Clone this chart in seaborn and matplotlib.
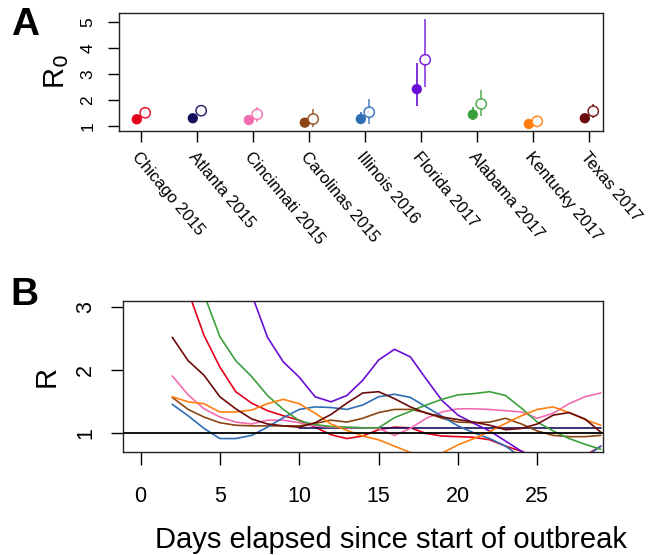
import numpy as np
import pandas as pd
import matplotlib
matplotlib.use("Agg")
import matplotlib.pyplot as plt
import seaborn as sns

# ---------------- data ----------------
regions = ["Chicago 2015", "Atlanta 2015", "Cincinnati 2015", "Carolinas 2015",
           "Illinois 2016", "Florida 2017", "Alabama 2017", "Kentucky 2017", "Texas 2017"]
colors = ["#E3001B", "#15105E", "#F26CB0", "#8B4513", "#2F6DB5",
          "#6A0DD6", "#3BA03B", "#FF7F0E", "#6B0A0A"]

# Panel A: two R0 estimates per outbreak (filled / open) with intervals
r0_filled = [1.26, 1.30, 1.23, 1.13, 1.27, 2.42, 1.44, 1.08, 1.30]
r0_filled_lo = [1.20, 1.25, 1.18, 1.05, 1.08, 1.78, 1.23, 1.02, 1.24]
r0_filled_hi = [1.32, 1.36, 1.29, 1.22, 1.55, 3.41, 1.74, 1.14, 1.36]
r0_open = [1.51, 1.59, 1.45, 1.27, 1.53, 3.55, 1.85, 1.18, 1.57]
r0_open_lo = [1.31, 1.50, 1.17, 0.95, 1.08, 2.49, 1.40, 1.02, 1.30]
r0_open_hi = [1.73, 1.68, 1.73, 1.64, 2.04, 5.12, 2.38, 1.33, 1.86]

# Panel B: R(t) by day
days = list(range(2, 30))
r_chicago = [4.30, 3.25, 2.55, 2.05, 1.66, 1.48, 1.36, 1.28, 1.21, 1.10, 0.98, 0.92, 0.96, 1.06,
             1.10, 1.09, 1.00, 0.96, 0.95, 0.94, 0.90, 0.80, 0.72, 0.60, 0.50, 0.50, 0.65, 0.80]
r_atlanta = [np.nan] * 8 + [1.09] * 20
r_cincinnati = [1.91, 1.61, 1.39, 1.26, 1.18, 1.15, 1.21, 1.21, 1.17, 1.12, 1.10, 1.09, 1.09, 1.08,
                0.97, 1.08, 1.24, 1.34, 1.39, 1.39, 1.38, 1.36, 1.34, 1.24, 1.32, 1.47, 1.58, 1.64]
r_carolinas = [1.57, 1.38, 1.26, 1.17, 1.13, 1.12, 1.12, 1.12, 1.12, 1.16, 1.21, 1.18, 1.24, 1.33,
               1.38, 1.38, 1.33, 1.24, 1.18, 1.17, 1.18, 1.24, 1.15, 1.04, 0.97, 0.95, 0.95, 0.97]
r_illinois = [1.46, 1.28, 1.08, 0.92, 0.92, 0.97, 1.10, 1.25, 1.38, 1.42, 1.41, 1.38, 1.45, 1.58,
              1.62, 1.57, 1.42, 1.27, 1.12, 1.01, 0.92, 0.80, 0.62, 0.50, 0.45, 0.45, 0.62, 0.80]
r_florida = [7.50, 6.50, 5.50, 4.60, 3.90, 3.20, 2.52, 2.13, 1.89, 1.58, 1.50, 1.60, 1.84, 2.16,
             2.33, 2.21, 1.86, 1.52, 1.29, 1.16, 1.04, 0.88, 0.72, 0.60, 0.50, 0.45, 0.40, 0.40]
r_alabama = [5.00, 4.00, 3.20, 2.53, 2.15, 1.90, 1.60, 1.38, 1.20, 1.14, 1.11, 1.10, 1.09, 1.09,
             1.25, 1.35, 1.45, 1.54, 1.61, 1.63, 1.66, 1.60, 1.40, 1.18, 1.04, 0.92, 0.83, 0.75]
r_kentucky = [1.58, 1.50, 1.47, 1.34, 1.34, 1.37, 1.47, 1.54, 1.47, 1.32, 1.15, 1.05, 0.96, 0.90,
              0.80, 0.70, 0.66, 0.69, 0.82, 0.92, 1.03, 1.16, 1.28, 1.38, 1.42, 1.33, 1.22, 1.13]
r_texas = [2.52, 2.15, 1.92, 1.58, 1.39, 1.23, 1.15, 1.12, 1.10, 1.17, 1.30, 1.48, 1.64, 1.66,
           1.55, 1.42, 1.32, 1.26, 1.22, 1.18, 1.13, 1.06, 1.08, 1.15, 1.29, 1.33, 1.23, 1.02]
r_series = [r_chicago, r_atlanta, r_cincinnati, r_carolinas, r_illinois,
            r_florida, r_alabama, r_kentucky, r_texas]

# ---------------- style ----------------
sns.set_theme(style="ticks")
plt.rcParams["font.family"] = ["Liberation Sans", "DejaVu Sans"]
for key in ["text.color", "axes.labelcolor", "xtick.color", "ytick.color"]:
    plt.rcParams[key] = "black"
plt.rcParams["axes.edgecolor"] = "#222222"
plt.rcParams["axes.linewidth"] = 1.0

fig = plt.figure(figsize=(6.48, 5.55), dpi=100)
axA = fig.add_axes([0.1836, 0.764, 0.747, 0.2126])
axB = fig.add_axes([0.1894, 0.1861, 0.7407, 0.271])

# ---------------- panel A ----------------
xpos = np.arange(1, len(regions) + 1)
off = 0.075
dfA = pd.DataFrame({"x": xpos - off, "R0": r0_filled, "region": regions})
axA.vlines(xpos - off, r0_filled_lo, r0_filled_hi, colors=colors, lw=1.2)
axA.vlines(xpos + off, r0_open_lo, r0_open_hi, colors=colors, lw=1.2, alpha=0.8)
sns.scatterplot(data=dfA, x="x", y="R0", hue="region", palette=colors, s=55,
                edgecolor="none", legend=False, ax=axA, zorder=3)
axA.scatter(xpos + off, r0_open, s=55, facecolors="white", edgecolors=colors,
            linewidths=1.1, zorder=3, alpha=0.9)
axA.set_xlim(0.607, 9.25)
axA.set_ylim(0.81, 5.35)
axA.set_yticks([1, 2, 3, 4, 5])
axA.set_xticks(xpos)
axA.set_xticklabels(regions, rotation=-50, ha="left", va="top",
                    rotation_mode="anchor", fontsize=12)
axA.tick_params(axis="y", labelrotation=90, labelsize=12.5, length=8, width=1, pad=9)
axA.tick_params(axis="x", length=8, width=1, pad=5)
for lab in axA.get_yticklabels():
    lab.set_va("center")
axA.set_xlabel("")
axA.set_ylabel(r"R$_0$", fontsize=21)
axA.yaxis.set_label_coords(-0.10, 0.5)
for s in axA.spines.values():
    s.set_visible(True)

# ---------------- panel B ----------------
rows = []
for reg, vals in zip(regions, r_series):
    for d, v in zip(days, vals):
        if not np.isnan(v):
            rows.append((reg, d, v))
dfB = pd.DataFrame(rows, columns=["region", "day", "R"])
sns.lineplot(data=dfB, x="day", y="R", hue="region", palette=colors,
             estimator=None, sort=True, lw=1.2, legend=False, ax=axB)
axB.axhline(1, color="black", lw=1.3, zorder=5)
axB.set_xlim(-1.12, 29.12)
axB.set_ylim(0.712, 3.088)
axB.set_xticks([0, 5, 10, 15, 20, 25])
axB.set_yticks([1, 2, 3])
axB.tick_params(axis="y", labelrotation=90, labelsize=15.5, length=9, width=1, pad=10)
for lab in axB.get_yticklabels():
    lab.set_va("center")
axB.tick_params(axis="x", labelsize=15.5, length=9, width=1, pad=16)
axB.set_xlabel("Days elapsed since start of outbreak", fontsize=21)
axB.xaxis.label.set_va("center")
axB.xaxis.set_label_coords(0.559, -0.585)
axB.set_ylabel("R", fontsize=21)
axB.yaxis.set_label_coords(-0.13, 0.5)
for s in axB.spines.values():
    s.set_visible(True)

fig.text(0.038, 0.955, "A", fontsize=28, fontweight="bold", ha="center", va="center")
fig.text(0.038, 0.468, "B", fontsize=28, fontweight="bold", ha="center", va="center")

fig.savefig("out.png", dpi=100)
